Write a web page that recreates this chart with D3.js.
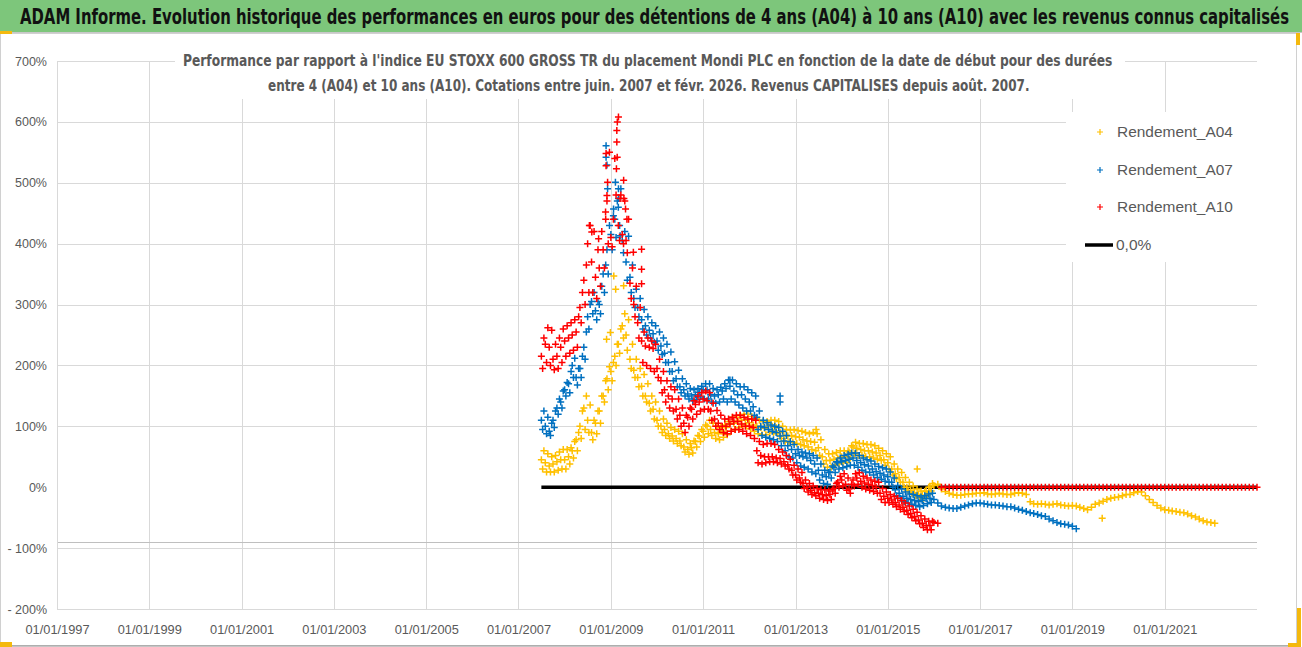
<!DOCTYPE html>
<html>
<head>
<meta charset="utf-8">
<script src="https://cdn.jsdelivr.net/npm/d3@7"></script>
<style>
  body { margin: 0; background: #fff; }
  svg { display: block; }
</style>
</head>
<body>
<div id="chart"></div>
<script>
// ---- data ----
// x axis tick labels and domain
var xTickLabels = ["01/01/1997", "01/01/1999", "01/01/2001", "01/01/2003", "01/01/2005", "01/01/2007",
  "01/01/2009", "01/01/2011", "01/01/2013", "01/01/2015", "01/01/2017", "01/01/2019", "01/01/2021"];
var xDomain = ["01/01/1997", "01/01/2023"];

// y axis ticks (%)
var yTicks = [700, 600, 500, 400, 300, 200, 100, 0, -100, -200];
var yTickLabels = ["700%", "600%", "500%", "400%", "300%", "200%", "100%", "0%", "- 100%", "- 200%"];
var yAxisCross = -89.5;

// legend
var seriesNames = ["Rendement_A04", "Rendement_A07", "Rendement_A10"];
var zeroName = "0,0%";

// monthly values (%), first month = July 2007
var firstMonth = "2007-07-01";

var a04 = [
  45, 40, 35, 38, 42, 45,
  45, 50, 60, 78, 100, 130, 110, 90, 105, 125, 150, 178,
  190, 215, 235, 265, 250, 210, 192, 180, 166, 150, 138, 128,
  110, 100, 95, 88, 84, 80, 76, 66, 62, 65, 75, 84,
  92, 100, 95, 90, 88, 92, 98, 104, 105, 108, 110, 110,
  106, 102, 100, 98, 97, 100, 100, 98, 90, 85, 84, 85,
  83, 82, 78, 76, 75, 74, 65, 50, 44, 44, 46, 48,
  50, 50, 58, 66, 64, 62, 60, 60, 58, 56, 52, 45,
  40, 30, 22, 16, 8, 0, -5, -9, -12, -13, -6, 0,
  3, 5, -3, -7, -10, -12, -13, -13, -12, -11, -11, -10,
  -10, -9, -11, -12, -11, -10, -11, -12, -12, -10, -9, -10,
  -12, -24, -27, -28, -27, -28, -29, -28, -27, -29, -30, -31,
  -30, -31, -33, -35, -37, -33, -28, -26, -23, -20, -18, -17,
  -16, -14, -12, -12, -9, -7, -8, -14, -20, -25, -30, -34,
  -37, -38, -39, -40, -41, -42, -44, -47, -49, -52, -55, -57,
  -58, -59
];
// low / high edge of the band, Jul 2007 - Dec 2015
var a04Lo = [
  30, 25, 25, 25, 28, 30,
  30, 38, 48, 60, 80, 95, 90, 78, 88, 105, 140, 160,
  175, 200, 220, 245, 225, 195, 180, 165, 150, 140, 125, 112,
  100, 90, 85, 80, 76, 72, 68, 58, 54, 56, 66, 75,
  82, 88, 85, 80, 78, 82, 86, 92, 95, 98, 100, 100,
  96, 92, 88, 86, 86, 90, 90, 88, 80, 75, 74, 74,
  72, 70, 68, 66, 62, 60, 52, 38, 33, 33, 36, 38,
  40, 40, 48, 55, 52, 52, 50, 50, 48, 46, 44, 36,
  30, 20, 14, 8, 0, -6, -10, -14, -17, -18, -12, -6
];
var a04Hi = [
  60, 55, 50, 52, 58, 62,
  62, 65, 75, 90, 125, 150, 135, 110, 125, 150, 175, 198,
  205, 235, 260, 285, 275, 235, 210, 195, 185, 170, 150, 140,
  125, 112, 105, 98, 95, 92, 88, 78, 72, 76, 85, 95,
  102, 110, 105, 100, 98, 102, 108, 115, 115, 118, 120, 120,
  116, 112, 110, 108, 108, 110, 110, 108, 100, 95, 94, 95,
  93, 92, 90, 88, 90, 88, 78, 62, 55, 55, 57, 60,
  60, 60, 68, 74, 72, 72, 70, 70, 68, 64, 60, 55,
  50, 38, 30, 24, 16, 8, 2, -3, -6, -7, 0, 6
];

var a07 = [
  110, 100, 92, 110, 130, 140,
  160, 170, 200, 180, 195, 230, 280, 305, 290, 300, 350, 390,
  415, 440, 460, 405, 370, 345, 310, 295, 275, 265, 258, 252,
  240, 232, 220, 205, 190, 178, 165, 160, 153, 150, 152, 156,
  160, 160, 152, 150, 152, 158, 162, 166, 158, 152, 152, 145,
  140, 132, 115, 100, 98, 95, 92, 90, 84, 76, 68, 62,
  55, 52, 50, 48, 44, 38, 28, 20, 17, 25, 33, 40,
  42, 44, 46, 48, 44, 40, 37, 35, 30, 26, 23, 20,
  17, 8, -4, -10, -15, -18, -20, -22, -24, -22, -19, -18,
  -20, -26, -31, -33, -34, -35, -35, -33, -31, -29, -27, -26,
  -26, -27, -28, -29, -29, -30, -31, -32, -32, -34, -36, -38,
  -40, -42, -43, -45, -47, -48, -52, -55, -58, -60, -61, -62,
  -64, -68
];
var a07Lo = [
  95, 88, 85, 98, 120, 130,
  150, 155, 180, 168, 180, 210, 260, 285, 275, 285, 320, 350,
  390, 410, 430, 385, 340, 320, 295, 280, 260, 250, 245, 238,
  225, 218, 205, 190, 175, 165, 155, 150, 145, 142, 144, 148,
  145, 145, 140, 138, 140, 145, 140, 145, 140, 135, 130, 125,
  125, 118, 95, 85, 82, 80, 78, 75, 68, 60, 50, 48,
  40, 35, 33, 30, 25, 22, 12, 6, 5, 15, 24, 30,
  32, 34, 36, 36, 33, 28, 25, 24, 20, 16, 13, 10,
  8, 0, -14, -18, -24, -26, -28, -30, -32, -30, -27, -25
];
var a07Hi = [
  125, 115, 105, 125, 145, 158,
  172, 190, 212, 195, 215, 255, 300, 320, 305, 330, 365, 430,
  446, 470, 490, 420, 412, 365, 325, 310, 292, 280, 270, 265,
  255, 245, 235, 222, 206, 192, 178, 170, 162, 160, 162, 166,
  170, 170, 162, 160, 164, 170, 176, 176, 170, 165, 165, 160,
  155, 150, 125, 110, 106, 102, 100, 98, 92, 85, 75, 70,
  62, 58, 56, 55, 52, 48, 38, 28, 24, 35, 42, 48,
  52, 54, 56, 56, 52, 48, 45, 43, 38, 34, 32, 30,
  25, 15, 3, -3, -8, -11, -12, -14, -16, -14, -11, -10
];

var a10 = [
  215, 235, 230, 210, 215, 230,
  240, 245, 250, 255, 295, 340, 400, 370, 345, 360, 390, 470,
  410, 540, 430, 415, 405, 335, 300, 270, 240, 232, 230, 228,
  195, 175, 160, 150, 145, 128, 118, 105, 115, 128, 136, 140,
  145, 142, 125, 112, 105, 100, 100, 104, 108, 108, 104, 100,
  100, 98, 60, 52, 50, 50, 50, 48, 47, 42, 37, 28,
  20, 15, 6, 0, -5, -9, -10, -12, -14, -12, -2, 8,
  12, 5, -3, 12, 15, 10, 7, 5, 3, 0, -10, -15,
  -18, -21, -25, -29, -33, -38, -43, -48, -54, -59, -63, -63,
  -58, -59, 0, 0, 0, 0, 0, 0, 0, 0, 0, 0,
  0, 0, 0, 0, 0, 0, 0, 0, 0, 0, 0, 0,
  0, 0, 0, 0, 0, 0, 0, 0, 0, 0, 0, 0,
  0, 0, 0, 0, 0, 0, 0, 0, 0, 0, 0, 0,
  0, 0, 0, 0, 0, 0, 0, 0, 0, 0, 0, 0,
  0, 0, 0, 0, 0, 0, 0, 0, 0, 0, 0, 0,
  0, 0, 0, 0, 0, 0, 0, 0, 0, 0, 0, 0,
  0
];
var a10Lo = [
  195, 205, 200, 193, 195, 205,
  215, 220, 225, 230, 270, 300, 320, 320, 310, 330, 360, 400,
  395, 480, 405, 400, 385, 310, 280, 245, 205, 200, 195, 190,
  180, 155, 140, 130, 125, 112, 100, 90, 100, 112, 120, 125,
  128, 128, 110, 100, 95, 90, 88, 92, 95, 95, 92, 88,
  85, 80, 40, 38, 40, 42, 42, 40, 38, 35, 30, 20,
  12, 8, -2, -8, -12, -14, -18, -20, -22, -20, -10, 0,
  2, -5, -10, 2, 5, 0, -3, -5, -7, -10, -20, -25,
  -25, -28, -32, -36, -40, -45, -50, -55, -60, -66, -70, -70
];
var a10Hi = [
  245, 262, 258, 235, 245, 260,
  265, 270, 275, 280, 320, 365, 430, 420, 390, 420, 440, 550,
  440, 600, 480, 470, 440, 360, 330, 295, 255, 245, 240, 235,
  210, 190, 175, 165, 160, 145, 130, 118, 130, 142, 150, 155,
  158, 155, 138, 126, 118, 112, 112, 115, 118, 118, 115, 112,
  112, 110, 75, 70, 72, 72, 70, 62, 58, 52, 46, 36,
  30, 24, 12, 6, 2, -2, -4, -4, -6, -4, 6, 18,
  22, 15, 5, 22, 24, 18, 15, 12, 10, 8, -2, -8,
  -12, -15, -18, -22, -26, -31, -36, -41, -47, -52, -56, -56
];

// single points standing out of the bands
var a04Extra = [["2008-11-28", 243], ["2008-12-28", 254], ["2009-01-24", 347], ["2009-02-08", 325],
  ["2009-04-12", 331], ["2013-06-13", 95], ["2015-08-22", 30], ["2019-08-25", -51]];
var a07Extra = [["2008-11-24", 561], ["2008-11-24", 542], ["2008-12-01", 529], ["2008-12-06", 490],
  ["2009-01-22", 457], ["2009-02-06", 501], ["2009-03-02", 490], ["2009-03-02", 474],
  ["2009-03-15", 413], ["2011-08-01", 176], ["2012-09-01", 150], ["2012-09-01", 140]];
var a10Extra = [["2009-03-02", 608], ["2009-02-17", 586], ["2009-02-17", 567], ["2009-02-20", 542],
  ["2009-02-14", 523], ["2008-11-24", 548], ["2008-11-24", 528], ["2008-12-06", 501],
  ["2008-12-01", 479], ["2008-11-20", 452], ["2009-04-12", 504], ["2009-04-14", 474],
  ["2009-04-27", 457], ["2009-03-15", 474], ["2009-05-08", 440], ["2009-09-01", 391],
  ["2009-09-01", 358], ["2009-09-01", 334], ["2008-07-15", 430], ["2008-08-03", 419],
  ["2008-09-26", 408], ["2009-06-28", 386]];

var colors = ["#FFC000", "#0070C0", "#FF0000"];

// ---- layout ----
var svgWidth = 1302;
var svgHeight = 647;
var plot = { left: 57, right: 1257, top: 61, bottom: 609 };
var titleFont = "'DejaVu Sans Condensed', 'DejaVu Sans', sans-serif";
var labelFont = "'Liberation Sans', Arial, sans-serif";
var gray = "#595959";

var svg = d3.select("#chart")
  .append("svg")
  .attr("width", svgWidth)
  .attr("height", svgHeight)
  .style("font-family", labelFont);

var parseDate = d3.timeParse("%d/%m/%Y");
var parseIso = d3.timeParse("%Y-%m-%d");
var start = parseIso(firstMonth);

// month i of the series; the band edges sit at a day inside the month
function monthly(values, day) {
  return values.map((v, i) => ({ date: d3.timeDay.offset(d3.timeMonth.offset(start, i), day || 0), value: v }));
}
function extra(list) {
  return list.map(d => ({ date: parseIso(d[0]), value: d[1] }));
}

// squeeze a text horizontally so it spans the given width
function fitText(text, x, y, width, anchor) {
  text.attr("x", 0).attr("y", 0).attr("text-anchor", "start");
  var natural = text.node().getComputedTextLength();
  var x0 = anchor === "middle" ? x - width / 2 : x;
  text.attr("transform", `translate(${x0},${y}) scale(${width / natural},1)`);
}

var xScale = d3.scaleTime()
  .domain(xDomain.map(parseDate))
  .range([plot.left, plot.right]);

var yScale = d3.scaleLinear()
  .domain([yTicks[yTicks.length - 1], yTicks[0]])
  .range([plot.bottom, plot.top]);

var xTickDates = xTickLabels.map(parseDate);

// banner
svg.append("rect")
  .attr("x", 0).attr("y", 0)
  .attr("width", svgWidth).attr("height", 32)
  .attr("fill", "#7DC67B");
svg.append("line")
  .attr("x1", 0).attr("x2", svgWidth)
  .attr("y1", 32.5).attr("y2", 32.5)
  .attr("stroke", "#c8c8c8");
var banner = svg.append("text")
  .attr("font-family", titleFont)
  .attr("font-size", "21px")
  .attr("font-weight", "bold")
  .attr("fill", "#111")
  .text("ADAM Informe. Evolution historique des performances en euros pour des détentions de 4 ans (A04) à 10 ans (A10) avec les revenus connus capitalisés");
fitText(banner, 20, 24, 1270, "start");

// chart frame
svg.append("rect")
  .attr("x", 0.5).attr("y", 33.5)
  .attr("width", 1296).attr("height", 612)
  .attr("fill", "none")
  .attr("stroke", "#d0d0d0");
svg.append("line")
  .attr("x1", 0).attr("x2", 1298)
  .attr("y1", 646).attr("y2", 646)
  .attr("stroke", "#8c8c8c");

// gridlines
var grid = svg.append("g");
grid.selectAll(".hgrid")
  .data(yTicks.filter(d => d !== 0))
  .enter()
  .append("line")
  .attr("x1", plot.left).attr("x2", plot.right)
  .attr("y1", d => Math.round(yScale(d)) + 0.5)
  .attr("y2", d => Math.round(yScale(d)) + 0.5)
  .attr("stroke", "#d9d9d9");
grid.selectAll(".vgrid")
  .data(xTickDates)
  .enter()
  .append("line")
  .attr("x1", d => Math.round(xScale(d)) + 0.5)
  .attr("x2", d => Math.round(xScale(d)) + 0.5)
  .attr("y1", plot.top).attr("y2", plot.bottom)
  .attr("stroke", "#d9d9d9");

// horizontal axis line
svg.append("line")
  .attr("x1", plot.left).attr("x2", plot.right)
  .attr("y1", Math.round(yScale(yAxisCross)) + 0.5)
  .attr("y2", Math.round(yScale(yAxisCross)) + 0.5)
  .attr("stroke", "#bfbfbf");

// 0,0% line
var a10Points = monthly(a10);
var zeroLine = d3.line()
  .x(d => xScale(d.date))
  .y(d => yScale(0));
svg.append("path")
  .datum(a10Points)
  .attr("d", zeroLine)
  .attr("fill", "none")
  .attr("stroke", "#000")
  .attr("stroke-width", 3.5);

// scatter series, "+" markers
var plus = "M-3.5,0H3.5M0,-3.5V3.5";
var series = [
  monthly(a04Lo, 10).concat(monthly(a04Hi, 20), monthly(a04), extra(a04Extra)),
  monthly(a07Lo, 10).concat(monthly(a07Hi, 20), monthly(a07), extra(a07Extra)),
  monthly(a10Lo, 10).concat(monthly(a10Hi, 20), a10Points, extra(a10Extra))
];
series.forEach(function(points, k) {
  svg.append("g")
    .selectAll("path")
    .data(points)
    .enter()
    .append("path")
    .attr("transform", d => `translate(${xScale(d.date)},${yScale(d.value)})`)
    .attr("d", plus)
    .attr("stroke", colors[k])
    .attr("stroke-width", 1.5)
    .attr("fill", "none");
});

// chart title box
svg.append("rect")
  .attr("x", 175).attr("y", 42)
  .attr("width", 950).attr("height", 57)
  .attr("fill", "#fff");
var title1 = svg.append("text")
  .attr("font-family", titleFont)
  .attr("font-size", "16px")
  .attr("font-weight", "bold")
  .attr("fill", gray)
  .text("Performance par rapport à l'indice EU STOXX 600 GROSS TR  du placement Mondi PLC en fonction de la date de début pour des durées");
fitText(title1, 648, 66, 930, "middle");
var title2 = svg.append("text")
  .attr("font-family", titleFont)
  .attr("font-size", "16px")
  .attr("font-weight", "bold")
  .attr("fill", gray)
  .text("entre 4 (A04) et 10 ans (A10). Cotations entre juin. 2007 et févr. 2026. Revenus CAPITALISES depuis août. 2007.");
fitText(title2, 649, 91, 762, "middle");

// axes labels
var leftAxis = d3.axisLeft(yScale)
  .tickValues(yTicks)
  .tickFormat((d, i) => yTickLabels[i])
  .tickSize(0)
  .tickPadding(10);
var yAxisG = svg.append("g")
  .attr("transform", `translate(${plot.left}, 0)`)
  .call(leftAxis);
yAxisG.select(".domain").remove();
yAxisG.selectAll("text")
  .attr("fill", gray)
  .attr("font-size", "12.5px")
  .attr("font-family", labelFont);

var bottomAxis = d3.axisBottom(xScale)
  .tickValues(xTickDates)
  .tickFormat((d, i) => xTickLabels[i])
  .tickSize(0)
  .tickPadding(16);
var xAxisG = svg.append("g")
  .attr("transform", `translate(0, ${plot.bottom})`)
  .call(bottomAxis);
xAxisG.select(".domain").remove();
xAxisG.selectAll("text")
  .attr("fill", gray)
  .attr("font-size", "12.8px")
  .attr("font-family", labelFont);

// left axis line
svg.append("line")
  .attr("x1", plot.left + 0.5).attr("x2", plot.left + 0.5)
  .attr("y1", plot.top).attr("y2", plot.bottom)
  .attr("stroke", "#d9d9d9");

// legend
svg.append("rect")
  .attr("x", 1066).attr("y", 112)
  .attr("width", 196).attr("height", 150)
  .attr("fill", "#fff");
var legendY = [132, 170, 207, 245];
seriesNames.forEach(function(name, k) {
  svg.append("path")
    .attr("transform", `translate(1100, ${legendY[k]})`)
    .attr("d", "M-3,0H3M0,-3V3")
    .attr("stroke", colors[k])
    .attr("stroke-width", 1.2);
  var t = svg.append("text")
    .attr("dy", "0.35em")
    .attr("fill", gray)
    .attr("font-size", "15.5px")
    .text(name);
  fitText(t, 1117, legendY[k], 116, "start");
});
svg.append("line")
  .attr("x1", 1085).attr("x2", 1113)
  .attr("y1", legendY[3]).attr("y2", legendY[3])
  .attr("stroke", "#000")
  .attr("stroke-width", 3.5);
svg.append("text")
  .attr("x", 1116).attr("y", legendY[3])
  .attr("dy", "0.35em")
  .attr("fill", gray)
  .attr("font-size", "15.5px")
  .text(zeroName);

// selection handles of the chart object
var handles = [[0, 31, 12, 3], [1296, 33, 4, 12], [0, 642, 12, 5], [1297, 608, 4, 39], [1288, 643, 12, 4]];
svg.selectAll(".handle")
  .data(handles)
  .enter()
  .append("rect")
  .attr("x", d => d[0]).attr("y", d => d[1])
  .attr("width", d => d[2]).attr("height", d => d[3])
  .attr("fill", "#F4B90E");
</script>
</body>
</html>
